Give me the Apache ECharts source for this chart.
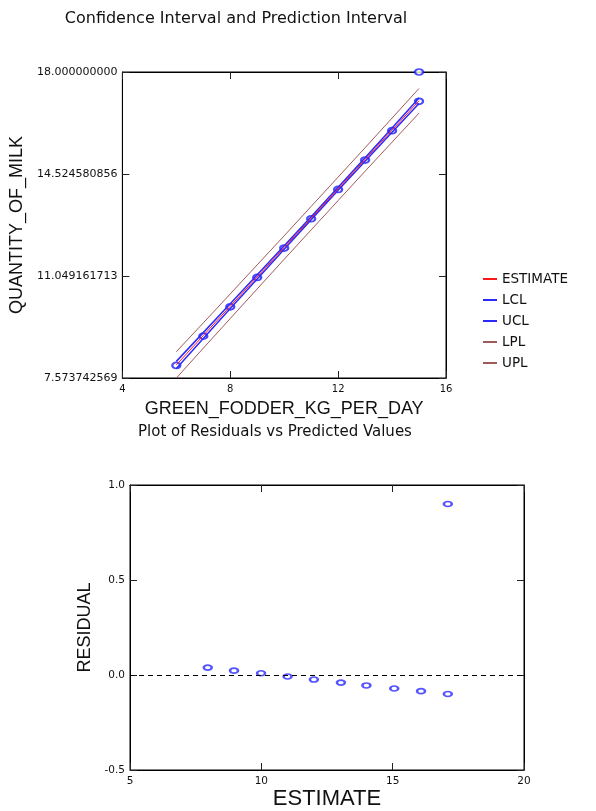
<!DOCTYPE html>
<html>
<head>
<meta charset="utf-8">
<script src="https://cdn.jsdelivr.net/npm/echarts@6/dist/echarts.min.js"></script>
<style>
  html, body { margin: 0; padding: 0; background: #fff; }
  #main { width: 596px; height: 811px; }
</style>
</head>
<body>
<div id="main"></div>
<script>
// top chart: fodder vs milk
const fodder = [6, 7, 8, 9, 10, 11, 12, 13, 14, 15];
const estimate = [8.02, 9.02, 10.02, 11.02, 12.02, 13.02, 14.02, 15.02, 16.02, 17.02];
const lcl = [7.9, 8.92, 9.94, 10.95, 11.96, 12.97, 13.97, 14.96, 15.95, 16.93];
const ucl = [8.14, 9.12, 10.1, 11.09, 12.08, 13.07, 14.07, 15.08, 16.09, 17.11];
const lpl = [7.57, 8.59, 9.6, 10.61, 11.62, 12.62, 13.62, 14.62, 15.61, 16.6];
const upl = [8.47, 9.45, 10.44, 11.43, 12.42, 13.42, 14.42, 15.42, 16.43, 17.44];
const obsX = [6, 7, 8, 9, 10, 11, 12, 13, 14, 15, 15];
const obsY = [8.0, 9.0, 10.0, 11.0, 12.0, 13.0, 14.0, 15.0, 16.0, 17.0, 18.0];
const milkTicks = [7.573742569, 11.049161713, 14.524580856, 18.0];
const fodderTicks = [4, 8, 12, 16];

// bottom chart: residuals
const predicted = [7.96, 8.96, 9.99, 11.0, 12.0, 13.03, 14.0, 15.06, 16.08, 17.1, 17.1];
const residual = [0.039, 0.023, 0.009, -0.008, -0.024, -0.04, -0.055, -0.071, -0.085, -0.1, 0.9];

const zip = (a, b) => a.map((v, i) => [v, b[i]]);

const chart = echarts.init(document.getElementById("main"), null, { renderer: "canvas" });

const black = "#000";
const labelFont = "DejaVu Sans";
const nameFont = "Liberation Sans";

// frame axis helper: mirrored axis without labels
const frameAxis = (extra) =>
  Object.assign(
    {
      type: "value",
      axisLine: { show: true, onZero: false, lineStyle: { color: black, width: 1 } },
      axisTick: { show: true, inside: true, length: 7, lineStyle: { color: "#222" } },
      axisLabel: { show: false },
      splitLine: { show: false },
    },
    extra
  );

const option = {
  backgroundColor: "#fff",
  animation: false,
  title: [
    {
      text: "Confidence Interval and Prediction Interval",
      left: 231,
      top: 6,
      textAlign: "center",
      textStyle: { fontFamily: labelFont, fontSize: 16, fontWeight: "normal", color: "#111" },
    },
    {
      text: "Plot of Residuals vs Predicted Values",
      left: 270,
      top: 420,
      textAlign: "center",
      textStyle: { fontFamily: labelFont, fontSize: 15, fontWeight: "normal", color: "#111" },
    },
  ],
  legend: {
    orient: "vertical",
    left: 478,
    top: 267,
    icon: "rect",
    itemWidth: 14,
    itemHeight: 2,
    itemGap: 7,
    data: ["ESTIMATE", "LCL", "UCL", "LPL", "UPL"],
    textStyle: { fontFamily: labelFont, fontSize: 13.5, color: "#111", lineHeight: 14 },
  },
  grid: [
    { left: 122, top: 72, width: 324, height: 306, show: true, borderColor: black, borderWidth: 1 },
    { left: 130, top: 485, width: 394, height: 288, show: true, borderColor: black, borderWidth: 1 },
  ],
  xAxis: [
    frameAxis({
      gridIndex: 0,
      position: "bottom",
      min: 4,
      max: 16,
      interval: 4,
      name: "GREEN_FODDER_KG_PER_DAY",
      nameLocation: "middle",
      nameGap: 22,
      nameTextStyle: { fontFamily: nameFont, fontSize: 18, color: "#111" },
      axisLabel: {
        show: true,
        margin: 6,
        fontFamily: labelFont,
        fontSize: 10,
        color: "#111",
        customValues: fodderTicks,
      },
    }),
    frameAxis({ gridIndex: 0, position: "top", min: 4, max: 16, interval: 4 }),
    frameAxis({
      gridIndex: 1,
      position: "bottom",
      min: 5,
      max: 20,
      interval: 5,
      name: "ESTIMATE",
      nameLocation: "middle",
      nameGap: 18,
      nameTextStyle: { fontFamily: nameFont, fontSize: 22, color: "#111" },
      axisLabel: { show: true, margin: 6, fontFamily: labelFont, fontSize: 10.5, color: "#111" },
    }),
    frameAxis({ gridIndex: 1, position: "top", min: 5, max: 20, interval: 5 }),
  ],
  yAxis: [
    frameAxis({
      gridIndex: 0,
      position: "left",
      min: milkTicks[0],
      max: 18,
      name: "QUANTITY_OF_MILK",
      nameLocation: "middle",
      nameGap: 92,
      nameTextStyle: { fontFamily: nameFont, fontSize: 18, color: "#111" },
      axisTick: { show: true, inside: true, length: 7, customValues: milkTicks, lineStyle: { color: "#222" } },
      axisLabel: {
        show: true,
        margin: 5,
        fontFamily: labelFont,
        fontSize: 11,
        color: "#111",
        customValues: milkTicks,
        formatter: (v) => v.toFixed(9),
      },
    }),
    frameAxis({
      gridIndex: 0,
      position: "right",
      min: milkTicks[0],
      max: 18,
      axisTick: { show: true, inside: true, length: 7, customValues: milkTicks, lineStyle: { color: "#222" } },
    }),
    frameAxis({
      gridIndex: 1,
      position: "left",
      min: -0.5,
      max: 1.0,
      interval: 0.5,
      name: "RESIDUAL",
      nameLocation: "middle",
      nameGap: 36,
      nameTextStyle: { fontFamily: nameFont, fontSize: 18, color: "#111" },
      axisLabel: {
        show: true,
        margin: 5,
        fontFamily: labelFont,
        fontSize: 10.5,
        color: "#111",
        formatter: (v) => v.toFixed(1),
      },
    }),
    frameAxis({ gridIndex: 1, position: "right", min: -0.5, max: 1.0, interval: 0.5 }),
  ],
  series: [
    {
      name: "UPL",
      type: "line",
      xAxisIndex: 0,
      yAxisIndex: 0,
      data: zip(fodder, upl),
      showSymbol: false,
      color: "#a05a5a",
      lineStyle: { width: 1 },
    },
    {
      name: "LPL",
      type: "line",
      xAxisIndex: 0,
      yAxisIndex: 0,
      data: zip(fodder, lpl),
      showSymbol: false,
      color: "#a05a5a",
      lineStyle: { width: 1 },
    },
    {
      name: "UCL",
      type: "line",
      xAxisIndex: 0,
      yAxisIndex: 0,
      data: zip(fodder, ucl),
      showSymbol: false,
      color: "#2a2aff",
      lineStyle: { width: 1.5 },
    },
    {
      name: "LCL",
      type: "line",
      xAxisIndex: 0,
      yAxisIndex: 0,
      data: zip(fodder, lcl),
      showSymbol: false,
      color: "#2a2aff",
      lineStyle: { width: 1.5 },
    },
    {
      name: "ESTIMATE",
      type: "line",
      xAxisIndex: 0,
      yAxisIndex: 0,
      data: zip(fodder, estimate),
      showSymbol: false,
      color: "#ff1a1a",
      lineStyle: { width: 1 },
    },
    {
      name: "OBSERVED",
      type: "scatter",
      xAxisIndex: 0,
      yAxisIndex: 0,
      data: zip(obsX, obsY),
      symbol: "emptyCircle",
      symbolSize: [8, 6],
      itemStyle: { color: "#1a1aff", borderWidth: 1.2 },
    },
    {
      name: "RESIDUAL",
      type: "scatter",
      xAxisIndex: 2,
      yAxisIndex: 2,
      data: zip(predicted, residual),
      symbol: "emptyCircle",
      symbolSize: [8, 5],
      itemStyle: { color: "#2a2aff", borderWidth: 1.2 },
      markLine: {
        silent: true,
        symbol: "none",
        label: { show: false },
        lineStyle: { color: black, type: [5, 4], width: 1 },
        data: [{ yAxis: 0 }],
      },
    },
  ],
};

chart.setOption(option);
</script>
</body>
</html>
